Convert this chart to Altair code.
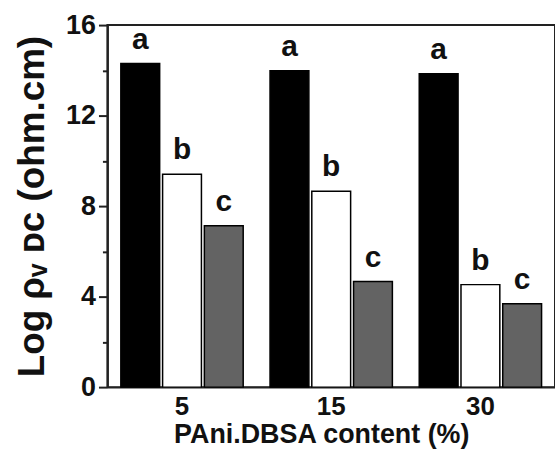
import altair as alt
import pandas as pd

contents = ["5", "15", "30"]
series = ["a", "b", "c"]
val_a = [14.3, 13.98, 13.85]
val_b = [9.41, 8.66, 4.53]
val_c = [7.13, 4.67, 3.68]
y_ticks = [0, 2, 4, 6, 8, 10, 12, 14, 16]
fills = ["#000000", "#ffffff", "#636363"]

rows = []
for i, c in enumerate(contents):
    for s, vals in zip(series, [val_a, val_b, val_c]):
        rows.append({"content": c, "series": s, "value": vals[i]})
df = pd.DataFrame(rows)

FONT = "Liberation Sans"

x = alt.X(
    "content:N",
    sort=contents,
    scale=alt.Scale(paddingInner=0.18, paddingOuter=0.09),
    axis=alt.Axis(
        title="PAni.DBSA content (%)",
        labelAngle=0,
        ticks=False,
        labelFont=FONT,
        labelFontSize=26,
        labelFontWeight="bold",
        labelColor="#111",
        labelPadding=7,
        titleFont=FONT,
        titleFontSize=27,
        titleFontWeight="bold",
        titleColor="#111",
        titlePadding=2,
        titleX=215,
        domainColor="#222",
        domainWidth=2,
    ),
)
xo = alt.XOffset("series:N", sort=series, scale=alt.Scale(paddingInner=0.07))
y = alt.Y(
    "value:Q",
    scale=alt.Scale(domain=[0, 16], nice=False),
    axis=alt.Axis(
        title="Log ρᵥ  ᴅᴄ  (ohm.cm)",
        values=y_ticks,
        labelExpr="datum.value % 4 === 0 ? datum.label : ''",
        tickSize={"condition": {"test": "datum.value % 4 === 0", "value": 9}, "value": 5},
        tickColor="#222",
        tickWidth=2,
        labelFont=FONT,
        labelFontSize=27,
        labelFontWeight="bold",
        labelColor="#111",
        labelPadding=3,
        titleFont=FONT,
        titleFontSize=37,
        titleFontWeight="bold",
        titleColor="#111",
        titlePadding=14,
        domainColor="#222",
        domainWidth=2,
        grid=False,
    ),
)
color = alt.Color(
    "series:N", scale=alt.Scale(domain=series, range=fills), legend=None
)

bars = alt.Chart(df).mark_bar(stroke="black", strokeWidth=1.5).encode(
    x=x, xOffset=xo, y=y, color=color
)
labels = alt.Chart(df).mark_text(
    dy=-9, baseline="bottom", font=FONT, fontSize=30, fontWeight="bold", color="#111"
).encode(x=x, xOffset=xo, y=y, text="series:N")

chart = (
    alt.layer(bars, labels)
    .properties(
        width=450,
        height=364,
        autosize="none",
        padding={"left": 108, "top": 24, "right": 0, "bottom": 63},
        background="white",
    )
    .configure_view(stroke="#222", strokeWidth=2)
)

chart.save("out.html", embed_options={"renderer": "svg", "actions": False})
